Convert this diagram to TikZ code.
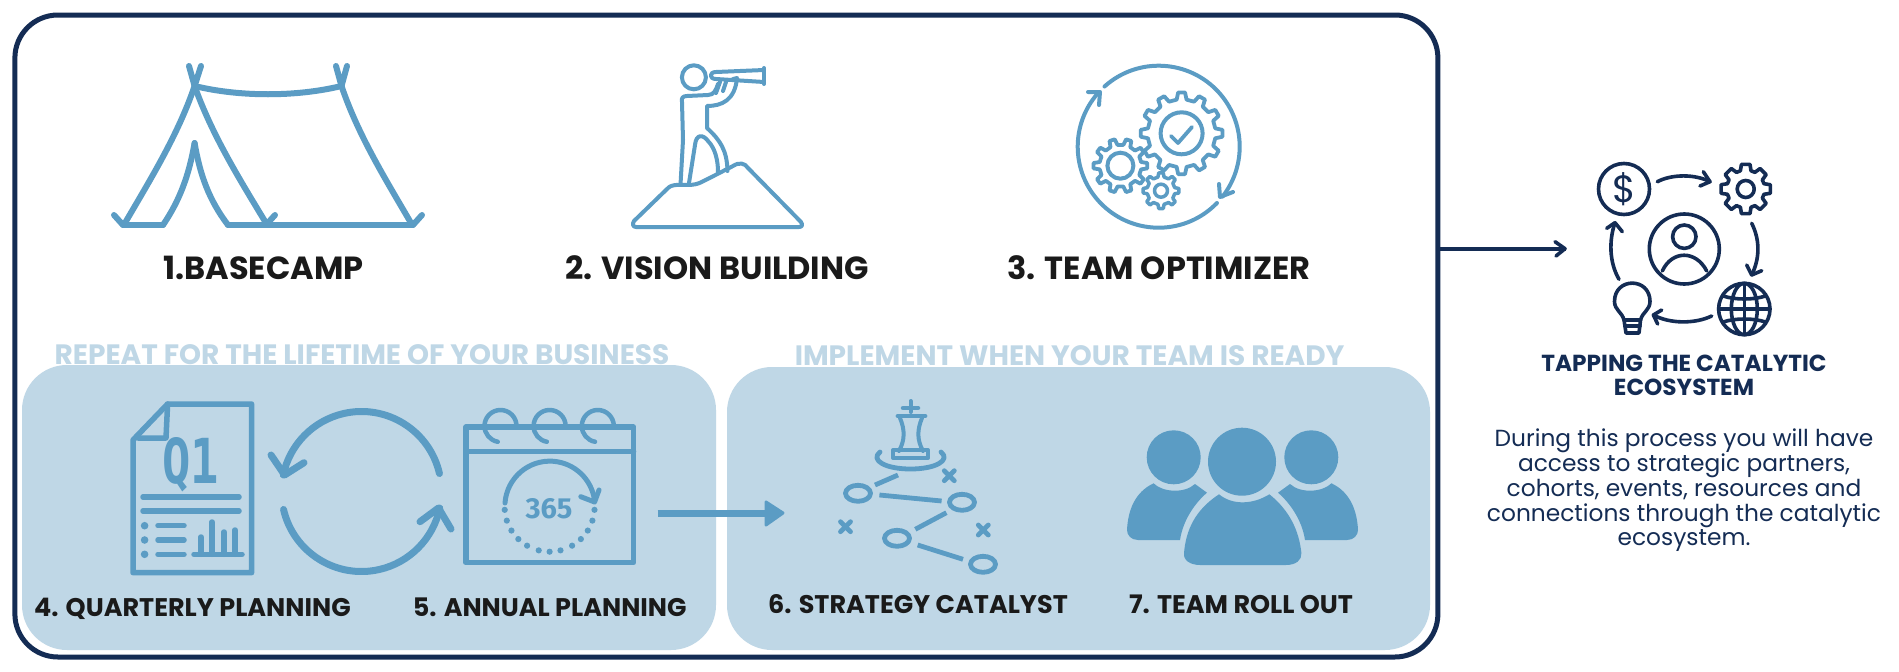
\documentclass[tikz,border=0pt]{standalone}
\usepackage{fontspec}
\setmainfont{Poppins}
\newfontfamily\monoq{DejaVu Sans Mono}
\newfontfamily\firaf{Fira Sans}
\definecolor{iconblue}{HTML}{5B9CC4}
\definecolor{panelblue}{HTML}{BFD7E6}
\definecolor{navyc}{HTML}{142C54}
\definecolor{inkc}{HTML}{1A1A1A}
\newcommand{\fs}[1]{\fontsize{#1}{#1}\selectfont}
% x, y, outer, root, teeth, line width, half tooth root, half tooth tip, style
\newcommand{\gearshape}[9]{%
  \begin{scope}[shift={(#1,#2)}]
  \pgfmathsetmacro{\gs}{360/#5}
  \draw[#9,line width=#6] (-#7*\gs:#4)
    \foreach \k in {0,...,\numexpr#5-1\relax}{
      -- (\k*\gs-#7*\gs:#4) -- (\k*\gs-#8*\gs:#3) -- (\k*\gs+#8*\gs:#3) -- (\k*\gs+#7*\gs:#4)
    } -- cycle;
  \end{scope}}
\tikzset{
  ico/.style={draw=iconblue,line cap=round,line join=round},
  eco/.style={draw=navyc,line cap=round,line join=round,line width=3.6pt},
  panel/.style={fill=panelblue,rounded corners=45pt,inner sep=0pt,outer sep=0pt},
  biglabel/.style={anchor=base,text=inkc,font=\bfseries\fs{32}},
  midlabel/.style={anchor=base,text=inkc,font=\bfseries\fs{25.5}},
  headlabel/.style={anchor=base,text=panelblue,font=\bfseries\fs{28}},
  ecotitle/.style={anchor=base,text=navyc,font=\bfseries\fs{23.2}},
  ecobody/.style={anchor=base,text=navyc,font=\fs{23.3}},
}
\begin{document}
\begin{tikzpicture}[x=1pt,y=-1pt]
\useasboundingbox (0,0) rectangle (1899,672);
\fill[white] (0,0) rectangle (1899,672);
% frame and panels
\node[headlabel] (headA) at (362,364.5) {REPEAT FOR THE LIFETIME OF YOUR BUSINESS};
\node[headlabel] (headB) at (1069.6,365.5) {IMPLEMENT WHEN YOUR TEAM IS READY};
\node[panel,minimum width=694pt,minimum height=285pt] (panelA) at (369,507.5) {};
\node[panel,minimum width=703pt,minimum height=283pt] (panelB) at (1078.5,508.5) {};
\node[draw=navyc,line width=5pt,rounded corners=43pt,minimum width=1423pt,minimum height=642pt,inner sep=0pt] (frame) at (726.4,336) {};
% tent
\begin{scope}[ico,line width=6pt]
\draw (189,66) -- (194.6,86) -- (201,66);
\draw (336,66) -- (341.5,86) -- (347,66);
\draw (194.6,86) .. controls (240,97) and (296,97) .. (341.5,86);
\draw (194.6,86) .. controls (178,135) and (150,180) .. (125,223);
\draw (194.6,86) .. controls (212,135) and (240,180) .. (266,223);
\draw (341.5,86) .. controls (358,135) and (386,180) .. (411,223);
\draw (194.6,143) .. controls (189,175) and (180,200) .. (163,225);
\draw (194.6,143) .. controls (200,175) and (209,200) .. (228,225);
\draw (123,225) -- (163,225);
\draw (228,225) -- (413,225);
\draw (114,215) -- (123,225);
\draw (275,215) -- (266,225);
\draw (422,215) -- (413,225);
\end{scope}
\node[biglabel] (lab1) at (263.5,279.3) {1.BASECAMP};
% vision
\begin{scope}[ico,line width=4pt]
\draw (693.9,77.3) circle[radius=12];
\draw (764,68) -- (764,84);
\draw (764,70) -- (716,72) .. controls (709,72) and (709,79) .. (716,79) -- (764,82);
\draw (720,82) -- (716,93);
\draw (726,82) -- (723,91);
\draw (733,79) -- (737,78) .. controls (735,100) and (722,106) .. (707,106) -- (707,128) .. controls (720,140) and (727,150) .. (727.5,171);
\draw (718,84) .. controls (716,90) and (714,95) .. (708,95) -- (687,96) .. controls (683,96) and (681,98) .. (682,102) -- (683,140) -- (680.6,183);
\draw (689,183) -- (695,145) .. controls (696,134) and (703,134) .. (708,141) .. controls (715,148) and (718,160) .. (718,172);
\draw (671,186) .. controls (680,183) and (690,187) .. (699.5,183) .. controls (710,178) and (725,170) .. (733,166) .. controls (739,162) and (745,163) .. (748,168) -- (801,222) .. controls (803,225) and (802,227) .. (799,227) -- (636,227) .. controls (633,227) and (632,224) .. (634,221) -- (666,190) .. controls (668,188) and (669,187) .. (671,186);
\end{scope}
\node[biglabel] (lab2) at (717,279.3) {2. VISION BUILDING};
% gears
\begin{scope}[ico,line width=4pt,shift={(1158.7,146.7)}]
\draw (-132:81) arc[start angle=-132,end angle=38,radius=81];
\draw (44:81) arc[start angle=44,end angle=221,radius=81];
\end{scope}
\draw[ico,line width=4pt] (1088,92) -- (1100,92) -- (1099,105);
\draw[ico,line width=4pt] (1233,192) -- (1220,197) -- (1219,184);
\gearshape{1181.6}{133.3}{41}{34}{12}{3.8}{0.28}{0.16}{ico}
\draw[ico,line width=4pt] (1181.6,133.3) circle[radius=21];
\draw[ico,line width=3.8pt] (1171,136) -- (1178,143) -- (1192,127);
\gearshape{1120.4}{165.7}{27}{21}{10}{3.8}{0.28}{0.16}{ico}
\draw[ico,line width=4pt] (1120.4,165.7) circle[radius=13];
\gearshape{1161}{190.7}{18}{14}{8}{3.5}{0.28}{0.16}{ico}
\draw[ico,line width=3.5pt] (1161,190.7) circle[radius=6.5];
\node[biglabel] (lab3) at (1159,279.3) {3. TEAM OPTIMIZER};
% Q1 doc
\begin{scope}[ico,line width=5.5pt]
\draw (133,440) -- (167.6,404) -- (251.6,404) -- (251.6,572.7) -- (133,572.7) -- cycle;
\draw (167.6,404) -- (166,438) -- (138,438);
\draw (143,497) -- (239,497);
\draw (143,511) -- (239,511);
\foreach \yy in {525.7,540,554.3}{
  \draw (158,\yy) -- (184,\yy);
  \fill[iconblue,draw=none] (144.6,\yy) circle[radius=3.8];
}
\draw (194,554.3) -- (242,554.3);
\draw (201,554.3) -- (201,537);
\draw (212,554.3) -- (212,522);
\draw (224,554.3) -- (224,532);
\draw (235,554.3) -- (235,530);
\end{scope}
\node[anchor=base,text=iconblue,font=\monoq\bfseries\fs{62},xscale=0.76] (q1) at (191,483) {Q1};
% cycle arrows
\begin{scope}[ico,line width=7pt,shift={(361.5,491.5)}]
\draw (-13:80) arc[start angle=-13,end angle=-168,radius=80];
\draw (167:80) arc[start angle=167,end angle=12,radius=80];
\end{scope}
\draw[ico,line width=7pt] (271,455) -- (284.6,475) -- (304,462.7);
\draw[ico,line width=7pt] (420,521.7) -- (438.5,508) -- (451,529);
% calendar
\begin{scope}[ico,line width=5.5pt]
\draw (466,427) rectangle (633.6,562.7);
\draw (466,451.7) -- (633.6,451.7);
\foreach \xx in {500.5,549.6,597.8}{
  \draw[line width=4.5pt] (\xx,426) ++(16,0) arc[start angle=0,end angle=-260,radius=16];
}
\end{scope}
\draw[ico,line width=5pt] (505,503) arc[start angle=-176,end angle=-8,radius=45];
\draw[ico,line width=5pt] (580.8,496.7) -- (594.6,502) -- (599,490);
\foreach \aa in {4,18,32,46,60,76,90,104,120,134,148,162,176}{
  \fill[iconblue] (549.6,506.7) ++(\aa:45) circle[radius=3.1];
}
\node[anchor=base,text=iconblue,font=\firaf\bfseries\fs{29}] (n365) at (549,518) {365};
% big arrow
\coordinate (flowA) at (657.5,513);
\coordinate (flowB) at (767,513);
\draw[draw=iconblue,line width=7pt] (flowA) -- (flowB);
\fill[iconblue,draw=iconblue,line join=round,line width=3pt] (766,502) -- (783,513) -- (766,525) -- cycle;
\node[midlabel] (lab4) at (192.4,616) {4. QUARTERLY PLANNING};
\node[midlabel] (lab5) at (549.7,616) {5. ANNUAL PLANNING};
\node[midlabel] (lab6) at (918,613.3) {6. STRATEGY CATALYST};
\node[midlabel] (lab7) at (1241,613.3) {7. TEAM ROLL OUT};
% strategy
\begin{scope}[ico,line width=4.8pt]
\draw[line width=4pt] (910.5,401) -- (910.5,412);
\draw[line width=4.5pt] (903,408) -- (918,408);
\draw (898,416) -- (925,416);
\draw[line width=4pt] (900,418) .. controls (905,430) and (905,440) .. (899,451);
\draw[line width=4pt] (922,418) .. controls (917,430) and (917,440) .. (923,451);
\draw[line width=4pt] (893,450) rectangle (928,458);
\draw (880,452) .. controls (870,460) and (885,469) .. (910.5,469) .. controls (936,469) and (951,460) .. (941,452);
\draw[line cap=butt] (875,485) -- (898,475);
\draw[line cap=butt] (879.4,495) -- (941.6,501);
\draw[line cap=butt] (915.3,529.3) -- (946.4,512.7);
\draw[line cap=butt] (917.7,545) -- (963,559.3);
\draw (858,493.3) ellipse[x radius=12.5,y radius=8];
\draw (962,502.3) ellipse[x radius=12.5,y radius=8];
\draw (897,538.3) ellipse[x radius=12.5,y radius=8];
\draw (983,564.3) ellipse[x radius=12.5,y radius=8];
\foreach \xx/\yy in {949.3/475.7,845.5/526.7,983.3/530}{
  \draw (\xx-5,\yy-5) -- (\xx+5,\yy+5);
  \draw (\xx-5,\yy+5) -- (\xx+5,\yy-5);
}
\end{scope}
% team
\fill[iconblue] (1242,461.7) ellipse[x radius=34,y radius=34];
\fill[iconblue] (1173.7,457.3) ellipse[x radius=27,y radius=27];
\fill[iconblue] (1311.3,457.3) ellipse[x radius=27,y radius=27];
\fill[iconblue] (1184,553) .. controls (1186,530) and (1195,510) .. (1219,494.3) .. controls (1232,505) and (1252,505) .. (1269.4,494.3) .. controls (1289,510) and (1299,530) .. (1301.4,553) .. controls (1302,560) and (1296,565) .. (1286,565) -- (1200,565) .. controls (1190,565) and (1183,560) .. (1184,553) -- cycle;
\fill[iconblue] (1153.6,483.3) .. controls (1162,492) and (1184,494) .. (1195,484) -- (1207,492.7) .. controls (1195,503) and (1183,520) .. (1180,540) -- (1138,540) .. controls (1131,540) and (1127,535) .. (1127,530) .. controls (1128,510) and (1135,492) .. (1153.6,483.3) -- cycle;
\fill[iconblue] (1331.4,483.3) .. controls (1323,492) and (1301,494) .. (1290,484) -- (1278,492.7) .. controls (1290,503) and (1302,520) .. (1305,540) -- (1347,540) .. controls (1354,540) and (1358,535) .. (1358,530) .. controls (1357,510) and (1350,492) .. (1331.4,483.3) -- cycle;
% connector to eco
\coordinate (ecoIn) at (1566,248.7);
\draw[eco,line cap=butt] (frame.east |- ecoIn) -- (ecoIn);
\draw[eco] (1555,241.7) -- (1565,248.7) -- (1556,256);
% eco icon
\draw[eco] (1624,189) circle[radius=25.5];
\node[text=navyc,font=\fs{38},inner sep=0pt] (dollar) at (1624,189) {\$};
\gearshape{1745.7}{189}{25}{19}{8}{3.6}{0.36}{0.22}{eco}
\draw[eco] (1745.7,189) circle[radius=8.5];
\draw[eco] (1684.3,249) circle[radius=35];
\draw[eco] (1684.3,236.7) circle[radius=11.7];
\draw[eco] (1662.3,271) .. controls (1672,250) and (1696,250) .. (1706.7,271);
\begin{scope}[shift={(1744.3,309)}]
\draw[eco] (0,0) circle[radius=25.7];
\draw[eco] (0,0) ellipse[x radius=13,y radius=25.7];
\draw[eco] (0,-25.7) -- (0,25.7);
\draw[eco] (-25.7,0) -- (25.7,0);
\draw[eco] (-21,-13) .. controls (-10,-9) and (10,-9) .. (21,-13);
\draw[eco] (-21,13) .. controls (-10,9) and (10,9) .. (21,13);
\end{scope}
\draw[eco] (1624,320) .. controls (1622,312) and (1614.5,310) .. (1614.5,301.5) .. controls (1614.5,277) and (1650,277) .. (1650,301.5) .. controls (1650,310) and (1642.5,312) .. (1640.5,320) -- cycle;
\draw[eco] (1624,320) -- (1626,333) -- (1639,333) -- (1640.5,320);
\draw[eco] (1625,326) -- (1640,326);
\draw[eco] (1657.3,181.7) .. controls (1672,174) and (1695,174) .. (1710,181.7);
\draw[eco] (1703.3,171.7) -- (1710,181.7) -- (1700,186);
\draw[eco] (1751.7,223.3) .. controls (1760,240) and (1760,258) .. (1751.7,275);
\draw[eco] (1746.7,265) -- (1751.7,275) -- (1761.7,270.7);
\draw[eco] (1711.7,316) .. controls (1695,324) and (1670,324) .. (1653.3,315);
\draw[eco] (1661.7,310) -- (1653.3,315) -- (1657.7,324);
\draw[eco] (1619,279.3) .. controls (1609,262) and (1609,240) .. (1615,222.7);
\draw[eco] (1606.7,228.3) -- (1615,222.7) -- (1622.3,231.7);
% eco text
\node[ecotitle] (ecoT1) at (1684,371) {TAPPING THE CATALYTIC};
\node[ecotitle] (ecoT2) at (1684,395.7) {ECOSYSTEM};
\node[ecobody] (ecoB1) at (1684,446) {During this process you will have};
\node[ecobody] (ecoB2) at (1684,471) {access to strategic partners,};
\node[ecobody] (ecoB3) at (1684,496) {cohorts, events, resources and};
\node[ecobody] (ecoB4) at (1684,521) {connections through the catalytic};
\node[ecobody] (ecoB5) at (1684,545.7) {ecosystem.};
\end{tikzpicture}
\end{document}
